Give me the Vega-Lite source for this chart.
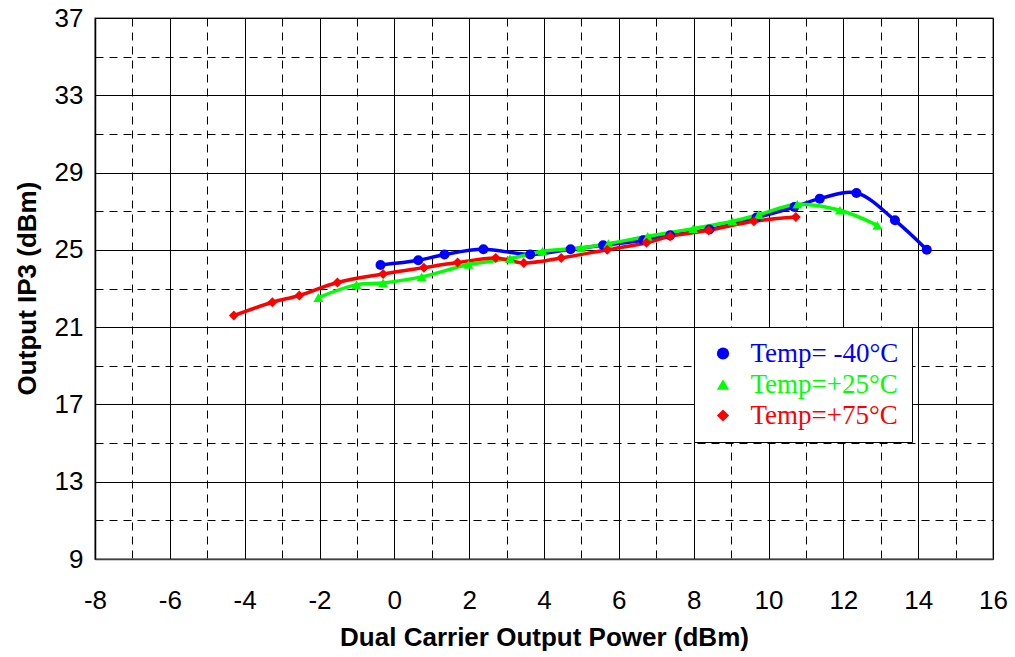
{
  "$schema": "https://vega.github.io/schema/vega-lite/v6.json",
  "width": 898,
  "height": 541,
  "autosize": "none",
  "padding": {"left": 95, "top": 18, "right": 22, "bottom": 98},
  "background": "white",
  "config": {
    "view": {"stroke": "#7f7f7f", "strokeWidth": 1.5},
    "font": "Liberation Sans"
  },
  "data": {
    "values": [
      {"series": "Temp= -40°C", "power": -0.37, "ip3": 24.22},
      {"series": "Temp= -40°C", "power": 0.64, "ip3": 24.46},
      {"series": "Temp= -40°C", "power": 1.34, "ip3": 24.76},
      {"series": "Temp= -40°C", "power": 2.38, "ip3": 25.03},
      {"series": "Temp= -40°C", "power": 3.63, "ip3": 24.76},
      {"series": "Temp= -40°C", "power": 4.71, "ip3": 25.03},
      {"series": "Temp= -40°C", "power": 5.58, "ip3": 25.24},
      {"series": "Temp= -40°C", "power": 6.65, "ip3": 25.5},
      {"series": "Temp= -40°C", "power": 7.37, "ip3": 25.75},
      {"series": "Temp= -40°C", "power": 8.42, "ip3": 26.05},
      {"series": "Temp= -40°C", "power": 9.68, "ip3": 26.67},
      {"series": "Temp= -40°C", "power": 10.69, "ip3": 27.22},
      {"series": "Temp= -40°C", "power": 11.37, "ip3": 27.65},
      {"series": "Temp= -40°C", "power": 12.35, "ip3": 27.94},
      {"series": "Temp= -40°C", "power": 13.38, "ip3": 26.53},
      {"series": "Temp= -40°C", "power": 14.23, "ip3": 25.01},
      {"series": "Temp=+25°C", "power": -2.03, "ip3": 22.53},
      {"series": "Temp=+25°C", "power": -1.01, "ip3": 23.2},
      {"series": "Temp=+25°C", "power": -0.3, "ip3": 23.29},
      {"series": "Temp=+25°C", "power": 0.73, "ip3": 23.6},
      {"series": "Temp=+25°C", "power": 1.98, "ip3": 24.24},
      {"series": "Temp=+25°C", "power": 3.09, "ip3": 24.55},
      {"series": "Temp=+25°C", "power": 3.96, "ip3": 24.93},
      {"series": "Temp=+25°C", "power": 4.99, "ip3": 25.1},
      {"series": "Temp=+25°C", "power": 5.72, "ip3": 25.32},
      {"series": "Temp=+25°C", "power": 6.77, "ip3": 25.7},
      {"series": "Temp=+25°C", "power": 7.99, "ip3": 26.1},
      {"series": "Temp=+25°C", "power": 9.04, "ip3": 26.48},
      {"series": "Temp=+25°C", "power": 9.74, "ip3": 26.82},
      {"series": "Temp=+25°C", "power": 10.77, "ip3": 27.36},
      {"series": "Temp=+25°C", "power": 11.91, "ip3": 27.05},
      {"series": "Temp=+25°C", "power": 12.91, "ip3": 26.27},
      {"series": "Temp=+75°C", "power": -4.29, "ip3": 21.6},
      {"series": "Temp=+75°C", "power": -3.26, "ip3": 22.29},
      {"series": "Temp=+75°C", "power": -2.54, "ip3": 22.64},
      {"series": "Temp=+75°C", "power": -1.52, "ip3": 23.31},
      {"series": "Temp=+75°C", "power": -0.3, "ip3": 23.75},
      {"series": "Temp=+75°C", "power": 0.79, "ip3": 24.08},
      {"series": "Temp=+75°C", "power": 1.69, "ip3": 24.34},
      {"series": "Temp=+75°C", "power": 2.71, "ip3": 24.58},
      {"series": "Temp=+75°C", "power": 3.46, "ip3": 24.32},
      {"series": "Temp=+75°C", "power": 4.46, "ip3": 24.58},
      {"series": "Temp=+75°C", "power": 5.69, "ip3": 25.01},
      {"series": "Temp=+75°C", "power": 6.74, "ip3": 25.37},
      {"series": "Temp=+75°C", "power": 7.37, "ip3": 25.7},
      {"series": "Temp=+75°C", "power": 8.4, "ip3": 26.01},
      {"series": "Temp=+75°C", "power": 9.61, "ip3": 26.48},
      {"series": "Temp=+75°C", "power": 10.73, "ip3": 26.7}
    ]
  },
  "encoding": {
    "x": {
      "field": "power",
      "type": "quantitative",
      "scale": {"domain": [-8, 16], "nice": false, "zero": false},
      "axis": {
        "values": [-8, -7, -6, -5, -4, -3, -2, -1, 0, 1, 2, 3, 4, 5, 6, 7, 8, 9, 10, 11, 12, 13, 14, 15, 16],
        "labelExpr": "datum.value % 2 === 0 ? '' + datum.value : ''",
        "ticks": false,
        "labelPadding": 28,
        "labelFontSize": 26,
        "labelColor": "#000000",
        "labelFlush": false,
        "labelOverlap": false,
        "labelBound": false,
        "grid": true,
        "gridColor": "#000000",
        "gridOpacity": 1,
        "gridWidth": 1,
        "gridDash": {"condition": {"test": "datum.value % 2 !== 0", "value": [8, 6]}, "value": []},
        "domainColor": "#404040",
        "domainWidth": 1.5,
        "title": "Dual Carrier Output Power (dBm)",
        "titleFontSize": 26,
        "titleFontWeight": "bold",
        "titleColor": "#000000",
        "titleX": 449,
        "titleY": 78,
        "titleBaseline": "middle",
        "titleAlign": "center"
      }
    },
    "y": {
      "field": "ip3",
      "type": "quantitative",
      "scale": {"domain": [9, 37], "nice": false, "zero": false},
      "axis": {
        "values": [9, 11, 13, 15, 17, 19, 21, 23, 25, 27, 29, 31, 33, 35, 37],
        "labelExpr": "(datum.value - 9) % 4 === 0 ? '' + datum.value : ''",
        "ticks": false,
        "labelPadding": 12,
        "labelFontSize": 26,
        "labelColor": "#000000",
        "labelFlush": false,
        "labelOverlap": false,
        "labelBound": false,
        "grid": true,
        "gridColor": "#000000",
        "gridOpacity": 1,
        "gridWidth": 1,
        "gridDash": {"condition": {"test": "(datum.value - 9) % 4 !== 0", "value": [8, 6]}, "value": []},
        "domainColor": "#000000",
        "domainWidth": 1.5,
        "title": "Output IP3 (dBm)",
        "titleFontSize": 26,
        "titleFontWeight": "bold",
        "titleColor": "#000000",
        "titleX": -68,
        "titleY": 270,
        "titleAngle": -90,
        "titleBaseline": "middle",
        "titleAlign": "center"
      }
    },
    "color": {
      "field": "series",
      "type": "nominal",
      "scale": {"domain": ["Temp= -40°C", "Temp=+25°C", "Temp=+75°C"], "range": ["#0000ff", "#00ff00", "#ff0000"]},
      "legend": {
        "title": null,
        "orient": "none",
        "legendX": 599,
        "legendY": 309,
        "padding": 13,
        "fillColor": "#ffffff",
        "strokeColor": "#000000",
        "symbolSize": 150,
        "symbolOffset": 2.5,
        "symbolStrokeWidth": 0,
        "symbolType": "circle",
        "labelOffset": 14,
        "labelFont": "Liberation Serif",
        "labelFontSize": 27,
        "labelLimit": 400,
        "rowPadding": 3,
        "encode": {"labels": {"update": {"fill": {"signal": "scale('color', datum.value)"}}}}
      }
    }
  },
  "layer": [
    {
      "mark": {"type": "line", "interpolate": "catmull-rom", "strokeWidth": 3.5}
    },
    {
      "mark": {"type": "point", "filled": true, "opacity": 1, "size": 100},
      "encoding": {
        "shape": {
          "field": "series",
          "type": "nominal",
          "scale": {"domain": ["Temp= -40°C", "Temp=+25°C", "Temp=+75°C"], "range": ["circle", "triangle-up", "diamond"]},
          "legend": {
            "title": null,
            "orient": "none",
            "legendX": 599,
            "legendY": 309,
            "padding": 13,
            "fillColor": "#ffffff",
            "strokeColor": "#000000",
            "symbolSize": 150,
            "symbolOffset": 2.5,
            "symbolStrokeWidth": 0,
            "labelOffset": 14,
            "labelFont": "Liberation Serif",
            "labelFontSize": 27,
            "labelLimit": 400,
            "rowPadding": 3,
            "encode": {"labels": {"update": {"fill": {"signal": "scale('color', datum.value)"}}}}
          }
        }
      }
    }
  ]
}
